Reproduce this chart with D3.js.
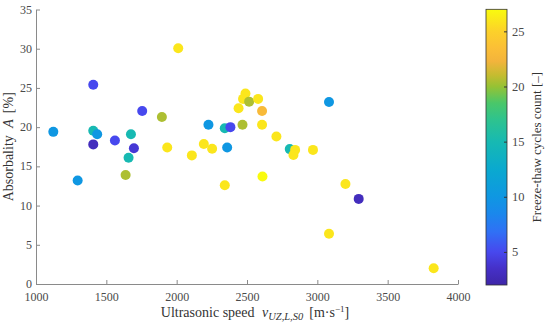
<!DOCTYPE html>
<html>
<head>
<meta charset="utf-8">
<script src="https://cdnjs.cloudflare.com/ajax/libs/d3/7.8.5/d3.min.js"></script>
<style>
  body { margin: 0; background: #fff; }
  svg text { font-family: "Liberation Serif", serif; }
</style>
</head>
<body>
<div id="chart"></div>
<script>
// data
var speed = [1123, 1296, 1407, 1407, 1435, 1407, 1561, 1675, 1696, 1658, 1637, 1755, 1895,
             2011, 1933, 2108, 2193, 2252, 2226, 2359, 2342, 2382, 2342, 2489, 2472, 2515,
             2579, 2440, 2607, 3083, 2468, 2607, 2709, 2804, 2842, 2830, 2969, 2610, 3200,
             3294, 3083, 3827];
var absorb = [19.4, 13.2, 25.4, 19.55, 19.1, 17.8, 18.3, 19.1, 17.3, 16.1, 13.9, 22.05, 21.3,
              30.05, 17.4, 16.4, 17.85, 17.25, 20.3, 17.4, 19.85, 20.0, 12.6, 24.3, 23.6, 23.25,
              23.6, 22.4, 22.05, 23.2, 20.3, 20.3, 18.8, 17.2, 17.1, 16.45, 17.1, 13.7, 12.75,
              10.85, 6.4, 2.0];
var cycles = [10, 10, 5, 15, 10, 3, 5, 15, 4, 15, 20.5, 5, 20.5,
              26, 26, 26, 26, 26, 10, 10, 15, 5, 26, 26, 26, 20.5,
              26, 26, 23, 10, 20.5, 26, 26, 15, 26, 26, 26, 27, 26,
              3, 26, 26];

var xTicks = [1000, 1500, 2000, 2500, 3000, 3500, 4000];
var yTicks = [0, 5, 10, 15, 20, 25, 30, 35];
var cTicks = [5, 10, 15, 20, 25];

// parula-like colormap stops (value -> colour)
var cmapVals = [2, 3.5, 5, 6.8, 8.5, 10, 12.5, 15, 17, 18.5, 20, 21, 22.3, 23.5, 25, 27];
var cmapCols = ["#3e26a8", "#4530c8", "#4748ee", "#3070f5", "#1a88ec", "#0f97e2", "#0aa9cf", "#17b9b2",
                "#2ec38e", "#4ac769", "#96c234", "#c4bc30", "#f3b43c", "#fbbf36", "#fcd12a", "#f9fb0e"];

var W = 550, H = 333;
var margin = {top: 9.5, right: 92, bottom: 49, left: 36};
var width = W - margin.left - margin.right,
    height = H - margin.top - margin.bottom;
var FONT = "'Liberation Serif', serif";

var x = d3.scaleLinear().domain([1000, 4000]).range([0, width]);
var y = d3.scaleLinear().domain([0, 35]).range([height, 0]);
var color = d3.scaleLinear().domain(cmapVals).range(cmapCols).clamp(true);

var svg = d3.select("#chart").append("svg")
    .attr("width", W)
    .attr("height", H);

var g = svg.append("g")
    .attr("transform", "translate(" + margin.left + "," + margin.top + ")");

// axes
var xAxis = g.append("g")
    .attr("transform", "translate(0," + height + ")")
    .call(d3.axisBottom(x).tickValues(xTicks).tickFormat(d3.format("d"))
      .tickSizeInner(-4).tickSizeOuter(0).tickPadding(8.5));
var yAxis = g.append("g")
    .call(d3.axisLeft(y).tickValues(yTicks).tickFormat(d3.format("d"))
      .tickSizeInner(-4).tickSizeOuter(0).tickPadding(4));

[xAxis, yAxis].forEach(function(a) {
  a.attr("font-family", FONT);
  a.select(".domain").attr("stroke", "#8a8a8a").attr("stroke-width", 1);
  a.selectAll(".tick line").attr("stroke", "#8a8a8a");
  a.selectAll(".tick text").attr("fill", "#4a4a4a")
    .style("font-family", FONT).style("font-size", "12px");
});
yAxis.selectAll(".tick text").attr("dy", "0.3em");

// points
var idx = d3.range(speed.length);
g.append("g").selectAll("circle")
    .data(idx)
  .enter().append("circle")
    .attr("cx", function(i) { return x(speed[i]); })
    .attr("cy", function(i) { return y(absorb[i]); })
    .attr("r", 5)
    .attr("fill", function(i) { return color(cycles[i]); });

// axis labels
svg.append("text")
    .attr("transform", "translate(13," + (margin.top + height / 2) + ") rotate(-90)")
    .attr("text-anchor", "middle")
    .attr("fill", "#333")
    .style("font-family", FONT)
    .style("font-size", "14px")
    .html('Absorbality <tspan font-style="italic" dx="4">A</tspan><tspan dx="6">[%]</tspan>');

var xl = svg.append("text")
    .attr("x", margin.left + width / 2 + 8)
    .attr("y", 317)
    .attr("text-anchor", "middle")
    .attr("fill", "#333")
    .style("font-family", FONT)
    .style("font-size", "14px");
xl.append("tspan").text("Ultrasonic speed ");
xl.append("tspan").attr("dx", 4).attr("font-style", "italic").text("v");
xl.append("tspan").attr("dy", 3).attr("font-style", "italic").style("font-size", "10.5px").text("UZ,L,S0");
xl.append("tspan").attr("dy", -3).attr("dx", 6).text("[m\u00b7s");
xl.append("tspan").attr("dy", -5).style("font-size", "9px").text("\u22121");
xl.append("tspan").attr("dy", 5).text("]");

// colorbar
var cbX = 486, cbW = 21, cbTop = 9.3, cbBot = 285;
var cy = d3.scaleLinear().domain([2, 27]).range([cbBot, cbTop]);

var grad = svg.append("defs").append("linearGradient")
    .attr("id", "cbgrad")
    .attr("x1", 0).attr("y1", 1).attr("x2", 0).attr("y2", 0);
grad.selectAll("stop")
    .data(cmapVals)
  .enter().append("stop")
    .attr("offset", function(v) { return (v - 2) / 25; })
    .attr("stop-color", function(v, i) { return cmapCols[i]; });

svg.append("rect")
    .attr("x", cbX).attr("y", cbTop)
    .attr("width", cbW).attr("height", cbBot - cbTop)
    .attr("fill", "url(#cbgrad)")
    .attr("stroke", "#333").attr("stroke-width", 0.8);

var cAxis = svg.append("g")
    .attr("transform", "translate(" + (cbX + cbW) + ",0)")
    .call(d3.axisRight(cy).tickValues(cTicks).tickSizeInner(-3).tickSizeOuter(0).tickPadding(5));
cAxis.attr("font-family", FONT);
cAxis.select(".domain").remove();
cAxis.selectAll(".tick line").attr("stroke", "#333");
cAxis.selectAll(".tick text").attr("fill", "#4a4a4a")
    .style("font-family", FONT).style("font-size", "12.5px");

svg.append("text")
    .attr("transform", "translate(541," + ((cbTop + cbBot) / 2) + ") rotate(-90)")
    .attr("text-anchor", "middle")
    .attr("fill", "#333")
    .style("font-family", FONT)
    .style("font-size", "13px")
    .text("Freeze-thaw cycles count [\u2013]");
</script>
</body>
</html>
